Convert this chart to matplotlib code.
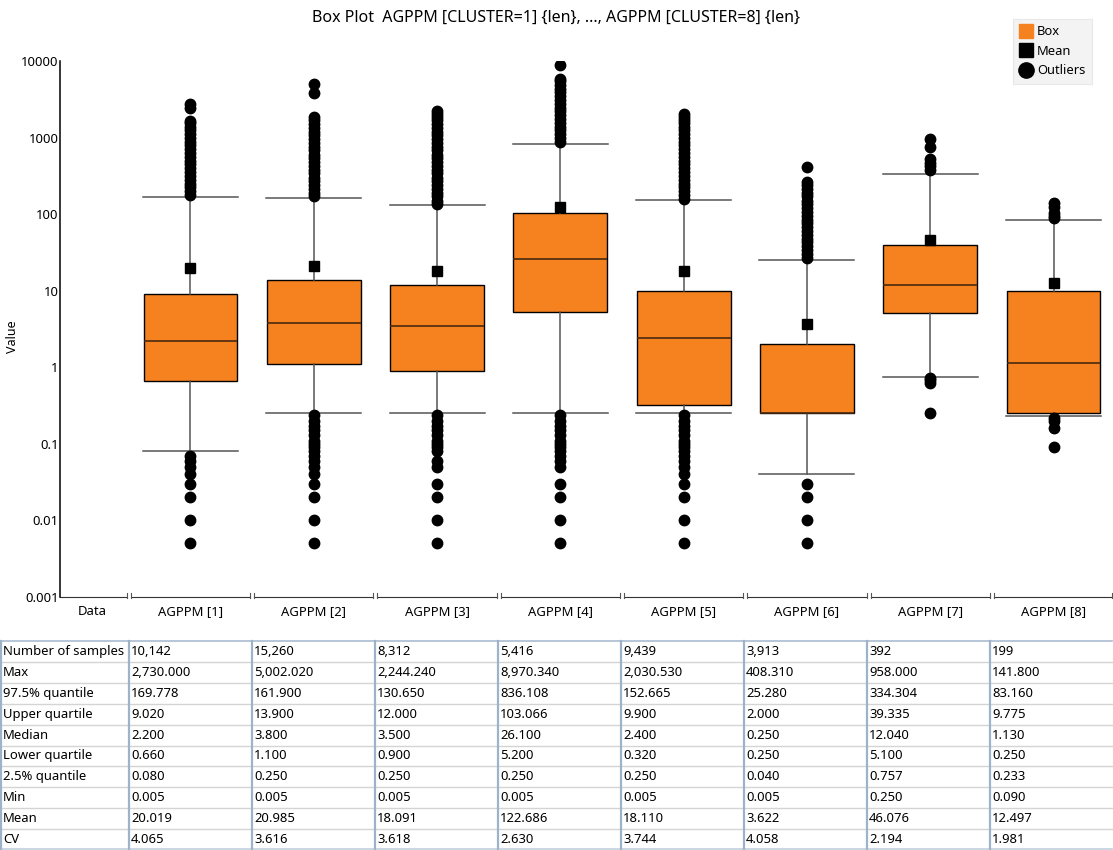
import matplotlib
matplotlib.use("Agg")
import matplotlib.pyplot as plt
from matplotlib.lines import Line2D
from matplotlib.ticker import FixedLocator, NullLocator, FuncFormatter
import matplotlib.transforms as mtransforms

plt.rcParams['font.family'] = ['Noto Sans', 'DejaVu Sans']

# --- data ---
labels = ['AGPPM [1]', 'AGPPM [2]', 'AGPPM [3]', 'AGPPM [4]',
          'AGPPM [5]', 'AGPPM [6]', 'AGPPM [7]', 'AGPPM [8]']
n_samples = [10142, 15260, 8312, 5416, 9439, 3913, 392, 199]
max_vals = [2730.000, 5002.020, 2244.240, 8970.340, 2030.530, 408.310, 958.000, 141.800]
q975 = [169.778, 161.900, 130.650, 836.108, 152.665, 25.280, 334.304, 83.160]
q3 = [9.020, 13.900, 12.000, 103.066, 9.900, 2.000, 39.335, 9.775]
median = [2.200, 3.800, 3.500, 26.100, 2.400, 0.250, 12.040, 1.130]
q1 = [0.660, 1.100, 0.900, 5.200, 0.320, 0.250, 5.100, 0.250]
q025 = [0.080, 0.250, 0.250, 0.250, 0.250, 0.040, 0.757, 0.233]
min_vals = [0.005, 0.005, 0.005, 0.005, 0.005, 0.005, 0.250, 0.090]
mean = [20.019, 20.985, 18.091, 122.686, 18.110, 3.622, 46.076, 12.497]
cv = [4.065, 3.616, 3.618, 2.630, 3.744, 4.058, 2.194, 1.981]

# outliers
out_hi = [
    [180, 200, 225, 250, 280, 315, 355, 400, 450, 500, 560, 630, 700, 790, 880, 990,
     1100, 1240, 1390, 1550, 1650, 2400, 2730],
    [170, 190, 215, 240, 270, 300, 340, 380, 430, 480, 540, 600, 680, 760, 850, 950,
     1070, 1200, 1340, 1500, 1680, 1880, 3800, 5002.02],
    [135, 150, 170, 190, 215, 240, 270, 300, 340, 380, 430, 480, 540, 600, 680, 760,
     850, 950, 1070, 1200, 1340, 1500, 1680, 1880, 2050, 2244.24],
    [880, 990, 1100, 1240, 1390, 1550, 1740, 1950, 2200, 2450, 2750, 3100, 3450, 3900,
     4350, 4900, 5500, 5800, 8970.34],
    [160, 180, 200, 225, 250, 280, 315, 355, 400, 450, 500, 560, 630, 700, 790, 880,
     990, 1100, 1240, 1390, 1550, 1700, 1850, 2030.53],
    [27, 30, 34, 38, 43, 48, 54, 60, 68, 76, 85, 95, 107, 120, 135, 150, 170, 190,
     215, 240, 265, 408.31],
    [380, 420, 470, 520, 750, 958],
    [88, 95, 105, 125, 141.8],
]
out_lo = [
    [0.07, 0.06, 0.05, 0.04, 0.03, 0.02, 0.01, 0.005],
    [0.24, 0.2, 0.17, 0.15, 0.13, 0.11, 0.1, 0.09, 0.08, 0.07, 0.06, 0.05, 0.04, 0.03, 0.02, 0.01, 0.005],
    [0.24, 0.2, 0.17, 0.15, 0.13, 0.11, 0.1, 0.09, 0.08, 0.06, 0.05, 0.03, 0.02, 0.01, 0.005],
    [0.24, 0.2, 0.17, 0.15, 0.13, 0.11, 0.1, 0.09, 0.08, 0.07, 0.06, 0.05, 0.03, 0.02, 0.01, 0.005],
    [0.24, 0.2, 0.17, 0.15, 0.13, 0.11, 0.1, 0.09, 0.08, 0.07, 0.06, 0.05, 0.04, 0.03, 0.02, 0.01, 0.005],
    [0.03, 0.02, 0.01, 0.005],
    [0.72, 0.68, 0.62, 0.25],
    [0.22, 0.2, 0.16, 0.09],
]

row_names = ['Number of samples', 'Max', '97.5% quantile', 'Upper quartile', 'Median',
             'Lower quartile', '2.5% quantile', 'Min', 'Mean', 'CV']
y_ticks = [0.001, 0.01, 0.1, 1, 10, 100, 1000, 10000]

W, H = 1113, 850
fig = plt.figure(figsize=(W / 100, H / 100), dpi=100)

# plot area: x 60..1112 px, y 61..597 px
ax = fig.add_axes([60 / W, 1 - 597 / H, 1052 / W, 536 / H])

stats = []
for i in range(8):
    stats.append(dict(med=median[i], q1=q1[i], q3=q3[i], whislo=q025[i], whishi=q975[i],
                      mean=mean[i], fliers=out_lo[i] + out_hi[i]))

ax.bxp(stats, positions=list(range(1, 9)), widths=0.76, capwidths=0.77,
       patch_artist=True, showmeans=True,
       boxprops=dict(facecolor='#f5821f', edgecolor='black', linewidth=1.0),
       medianprops=dict(color='#4a2a10', linewidth=1.2),
       meanprops=dict(marker='s', markerfacecolor='black', markeredgecolor='black', markersize=7.2),
       flierprops=dict(marker='o', markerfacecolor='black', markeredgecolor='black', markersize=7.5),
       whiskerprops=dict(color='#555555', linewidth=1.1),
       capprops=dict(color='#555555', linewidth=1.1))

ax.set_yscale('log')
ax.set_ylim(0.001, 10000)
ax.set_xlim(-0.058, 8.474)
ax.yaxis.set_major_locator(FixedLocator(y_ticks))
ax.yaxis.set_minor_locator(NullLocator())
ax.yaxis.set_major_formatter(FuncFormatter(lambda v, p: '{:g}'.format(v)))
ax.tick_params(axis='y', length=0, pad=1, labelsize=9.4)

ax.set_xticks([0.2] + list(range(1, 9)))
ax.set_xticklabels(['Data'] + labels)
ax.tick_params(axis='x', length=0, pad=6, labelsize=9.4)

for s in ['top', 'right', 'bottom']:
    ax.spines[s].set_visible(False)
ax.spines['left'].set_linewidth(1.1)

# segmented category axis
trans = mtransforms.blended_transform_factory(ax.transData, ax.transAxes)
gap = 0.016
segs = [(-0.058, 0.5 - gap)] + [(i - 0.5 + gap, min(i + 0.5 - gap, 8.474)) for i in range(1, 9)]
for a, b in segs:
    ax.plot([a, b], [0, 0], color='#333333', lw=0.8, transform=trans, clip_on=False)
    for e in (a, b):
        if e > 0:
            ax.plot([e, e], [-1 / 536, 4 / 536], color='#555555', lw=0.8, transform=trans, clip_on=False)

fig.text(12 / W, 1 - 337 / H, 'Value', rotation=90, ha='center', va='center', fontsize=9)
fig.text(556 / W, 1 - 18 / H, 'Box Plot  AGPPM [CLUSTER=1] {len}, ..., AGPPM [CLUSTER=8] {len}',
         ha='center', va='center', fontsize=11.5)

handles = [Line2D([], [], ls='', marker='s', markersize=10.5, color='#f5821f'),
           Line2D([], [], ls='', marker='s', markersize=10.5, color='black'),
           Line2D([], [], ls='', marker='o', markersize=11, color='black')]
leg = fig.legend(handles, ['Box', 'Mean', 'Outliers'], loc='upper right',
                 bbox_to_anchor=(1092 / W, 1 - 19 / H), frameon=True, fancybox=False,
                 facecolor='#f0f0f0', edgecolor='#e4e4e4', fontsize=9.3,
                 handlelength=1.0, handletextpad=0.4, labelspacing=0.5,
                 borderpad=0.5, borderaxespad=0)
leg.get_frame().set_linewidth(0.8)

# statistics table
tab = fig.add_axes([0, 0, 1, 209 / H])
tab.set_xlim(0, W)
tab.set_ylim(10, 0)
tab.axis('off')
col_edges = [0, 128, 251, 374, 497, 620, 743, 866, 989, 1112]
rows = [n_samples, max_vals, q975, q3, median, q1, q025, min_vals, mean, cv]
for r, name in enumerate(row_names):
    tab.text(col_edges[0] + 3, r + 0.5, name, va='center', ha='left', fontsize=9.4)
    for c in range(8):
        v = rows[r][c]
        s = '{:,}'.format(v) if r == 0 else '{:,.3f}'.format(v)
        tab.text(col_edges[c + 1] + 3, r + 0.5, s, va='center', ha='left', fontsize=9.4)
for r in range(1, 10):
    tab.plot([0, 1112], [r, r], color='#d4d4d4', lw=1.0, clip_on=False)
tab.plot([0, 1112], [0, 0], color='#a9bccf', lw=1.2, clip_on=False)
tab.plot([0, 1112], [9.97, 9.97], color='#c4d0dc', lw=1.2, clip_on=False)
for x in col_edges[:-1]:
    tab.plot([x + 1, x + 1], [0, 10], color='#9db3c9', lw=1.6, clip_on=False)

fig.savefig('out.png', dpi=100)
